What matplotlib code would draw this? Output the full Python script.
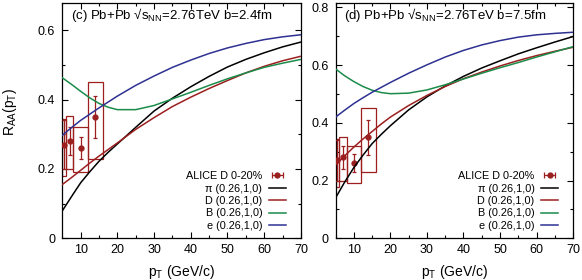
import matplotlib
matplotlib.use("Agg")
import matplotlib.pyplot as plt
from matplotlib.patches import Rectangle
from matplotlib.ticker import MultipleLocator, FuncFormatter

plt.rcParams['font.family'] = ['Liberation Sans', 'DejaVu Sans']
plt.rcParams['mathtext.fontset'] = 'custom'
plt.rcParams['mathtext.rm'] = 'Liberation Sans'
plt.rcParams['mathtext.it'] = 'Liberation Sans:italic'

# ALICE D 0-20% data
alice_pt = [5.5, 7.0, 10.0, 14.0]
alice_raa = [0.27, 0.28, 0.26, 0.35]
alice_err = [0.07, 0.041, 0.031, 0.06]
alice_bin_lo = [5, 6, 8, 12]
alice_bin_hi = [6, 8, 12, 16]
alice_sys_lo = [0.179, 0.20, 0.19, 0.23]
alice_sys_hi = [0.345, 0.352, 0.321, 0.451]

# model curves
pt = [5, 7.5, 10, 12.5, 15, 17.5, 20, 25, 30, 35, 40, 45, 50, 55, 60, 65, 70]

pi_b24 = [0.079, 0.12, 0.16, 0.192, 0.222, 0.248, 0.272, 0.32, 0.367, 0.404, 0.437, 0.467, 0.494, 0.516, 0.535, 0.552, 0.566]
d_b24 = [0.155, 0.175, 0.196, 0.217, 0.237, 0.256, 0.275, 0.314, 0.348, 0.38, 0.407, 0.432, 0.455, 0.477, 0.496, 0.512, 0.525]
b_b24 = [0.463, 0.444, 0.424, 0.405, 0.389, 0.378, 0.371, 0.371, 0.383, 0.402, 0.421, 0.441, 0.46, 0.477, 0.493, 0.505, 0.516]
e_b24 = [0.297, 0.319, 0.34, 0.358, 0.376, 0.393, 0.41, 0.441, 0.468, 0.493, 0.514, 0.533, 0.549, 0.562, 0.573, 0.581, 0.587]

pi_b75 = [0.14, 0.195, 0.245, 0.288, 0.328, 0.36, 0.39, 0.445, 0.49, 0.528, 0.561, 0.59, 0.615, 0.639, 0.66, 0.68, 0.699]
d_b75 = [0.254, 0.286, 0.316, 0.344, 0.37, 0.396, 0.42, 0.46, 0.495, 0.526, 0.553, 0.576, 0.597, 0.616, 0.633, 0.648, 0.662]
b_b75 = [0.587, 0.563, 0.543, 0.526, 0.513, 0.505, 0.501, 0.503, 0.514, 0.532, 0.552, 0.572, 0.591, 0.609, 0.628, 0.646, 0.664]
e_b75 = [0.42, 0.444, 0.467, 0.487, 0.506, 0.523, 0.54, 0.572, 0.601, 0.628, 0.651, 0.67, 0.685, 0.697, 0.705, 0.71, 0.714]

model_label = '(0.26,1,0)'
RED = '#9c1f1f'
GREEN = '#1a8c4a'
BLUE = '#2e3192'


def draw_panel(ax, curves, ymax, title):
    for lo, hi, slo, shi in zip(alice_bin_lo, alice_bin_hi, alice_sys_lo, alice_sys_hi):
        ax.add_patch(Rectangle((lo, slo), hi - lo, shi - slo, fill=False,
                               edgecolor=RED, lw=0.9, clip_on=True, zorder=2))
    ax.errorbar(alice_pt, alice_raa, yerr=alice_err, fmt='o', ms=3.5, color=RED,
                ecolor=RED, elinewidth=0.9, capsize=1.5, capthick=0.9, zorder=3)
    # legend key in gnuplot style (horizontal bar), drawn off-screen
    key = ax.errorbar([-50], [-1], xerr=[1], fmt='o', ms=3.5, color=RED,
                      elinewidth=0.9, capsize=2, capthick=0.9, label='ALICE D 0-20%')

    handles = [key]
    names = ['\u03c0', 'D', 'B', 'e']
    colors = ['black', RED, GREEN, BLUE]
    for name, col, vals in zip(names, colors, curves):
        line, = ax.plot(pt, vals, color=col, lw=1.1, label=f'{name} {model_label}', zorder=4)
        handles.append(line)

    ax.set_xlim(5, 70)
    ax.set_ylim(0, ymax)
    ax.xaxis.set_major_locator(MultipleLocator(10))
    ax.xaxis.set_minor_locator(MultipleLocator(5))
    ax.yaxis.set_major_locator(MultipleLocator(0.2))
    ax.yaxis.set_minor_locator(MultipleLocator(0.1))
    ax.yaxis.set_major_formatter(FuncFormatter(lambda v, p: f'{v:g}'))
    ax.tick_params(which='both', direction='in', top=True, right=True, labelsize=9)
    ax.tick_params(which='major', length=4, width=0.8)
    ax.tick_params(which='minor', length=2.5, width=0.8)
    ax.tick_params(axis='x', pad=4)
    ax.tick_params(axis='y', pad=5)
    for s in ax.spines.values():
        s.set_linewidth(0.9)

    ax.text(0.035, 0.945, title, transform=ax.transAxes, fontsize=9.5,
            ha='left', va='center')
    ax.text(0.5, -0.142, r'p$_{\rm T}$ (GeV/c)', transform=ax.transAxes,
            fontsize=10, ha='center', va='center')

    ax.legend(handles=handles, loc='lower right', bbox_to_anchor=(0.97, 0.0),
              frameon=False, markerfirst=False, fontsize=7.8, handlelength=1.6,
              handletextpad=0.6, labelspacing=0.22, borderpad=0.2)


fig = plt.figure(figsize=(5.82, 2.80), dpi=100)
ax1 = fig.add_axes([0.107, 0.149, 0.410, 0.842])
ax2 = fig.add_axes([0.5766, 0.149, 0.408, 0.842])

draw_panel(ax1, [pi_b24, d_b24, b_b24, e_b24], 0.68,
           '(c) Pb+Pb \u221as$_{\\rm NN}$=2.76TeV b=2.4fm')
draw_panel(ax2, [pi_b75, d_b75, b_b75, e_b75], 0.817,
           '(d) Pb+Pb \u221as$_{\\rm NN}$=2.76TeV b=7.5fm')

fig.text(10 / 582, 1 - 112 / 280, r'R$_{\rm AA}$(p$_{\rm T}$)', rotation=90,
         fontsize=10, ha='center', va='center')

fig.savefig('out.png', dpi=100)
